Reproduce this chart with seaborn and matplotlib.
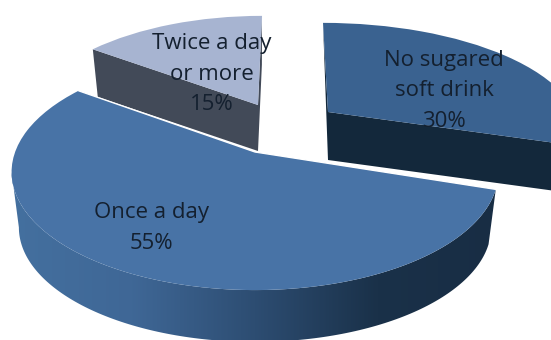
"""
Exploded 3D-look pie chart of sugared soft drink consumption
"""

import matplotlib.pyplot as plt
import numpy as np
import seaborn as sns
from matplotlib.colors import LinearSegmentedColormap
from matplotlib.patches import Polygon
from matplotlib.transforms import Transform

categories = ["No sugared\nsoft drink", "Once a day", "Twice a day\nor more"]
shares = [30, 55, 15]

top_colors = ["#3a6290", "#4873a6", "#a7b4d1"]
cut_colors = ["#13283b", "#4873a6", "#424a58"]

# slice layout in pixels: apex x, apex y, x scale, y scale, lean, depth
layout = [
    (328, 112, 1.04, 0.91, -0.056, 48),
    (255, 152, 1.01, 1.00, 0.0, 56),
    (258, 105, 0.96, 0.91, 0.045, 46),
]
label_pos = [(444, 91), (151, 228), (212, 74)]


class Tilt(Transform):
    """Perspective projection of the unit pie onto the page."""

    input_dims = 2
    output_dims = 2

    def __init__(self, apex_x, apex_y, sx, sy, lean, depth=0, shrink=1.0):
        super().__init__()
        self.params = (apex_x, apex_y + depth, sx * shrink, sy * shrink, lean)

    def transform_non_affine(self, values):
        apex_x, apex_y, sx, sy, lean = self.params
        values = np.asarray(values)
        denom = 1 + 0.17 * values[:, 1]
        dx = sx * 237.5 * values[:, 0] / denom
        dy = sy * 114.6 * values[:, 1] / denom
        return np.column_stack([apex_x + dx + lean * dy, apex_y - dy])


def rim(tilt, angles):
    rad = np.radians(angles)
    return tilt.transform_non_affine(np.column_stack([np.cos(rad), np.sin(rad)]))


sns.set_theme(style="white")
plt.rcParams["font.family"] = ["Open Sans", "DejaVu Sans"]

fig = plt.figure(figsize=(5.51, 3.40), dpi=100)
ax = fig.add_axes([0, 0, 1, 1])

wedges, _ = ax.pie(shares, startangle=90, counterclock=False, colors=top_colors)

for wedge, params in zip(wedges, layout):
    *shape, depth = params
    wedge.set_transform(Tilt(*shape) + ax.transData)
    wedge.set_linewidth(0)
    wedge.set_zorder(3)

# cut faces of the two smaller slices
for i in (0, 2):
    *shape, depth = layout[i]
    top = Tilt(*shape)
    low = Tilt(*shape, depth=depth, shrink=0.97)
    start, end = wedges[i].theta1, wedges[i].theta2
    apex = top.transform_non_affine(np.array([[0.0, 0.0]]))[0]
    apex_low = low.transform_non_affine(np.array([[0.0, 0.0]]))[0]
    for angle in (start, end):
        edge = rim(top, [angle])[0]
        if angle == 90 or angle == 450:
            face = [edge, apex, apex_low]
        else:
            face = [apex, edge, rim(low, [angle])[0], apex_low]
        ax.add_patch(Polygon(face, color=cut_colors[i], lw=0, zorder=2))

# front wall of the big slice, shaded left to right
*shape, depth = layout[1]
top = Tilt(*shape)
low = Tilt(*shape, depth=depth, shrink=0.97)
sweep = np.linspace(wedges[1].theta1, wedges[1].theta2, 200)
top_rim = rim(top, sweep)
low_rim = rim(low, sweep)
# start at the left extreme so the outline runs straight down from there
left = int(np.argmin(top_rim[:, 0]))
wall = Polygon(np.vstack([top_rim[left:], low_rim[left:][::-1]]),
               facecolor="none", lw=0, transform=ax.transData)
ax.add_patch(wall)
shade = LinearSegmentedColormap.from_list(
    "wall", ["#44709f", "#3f6796", "#2d4d72", "#1a3149", "#182d44"])
image = ax.imshow(np.linspace(0, 1, 256)[None, :], cmap=shade, aspect="auto",
                  extent=(10, 500, 345, 150), zorder=4)
image.set_clip_path(wall)
wedges[1].set_zorder(5)

# thin white seam along the cut edges of the big slice
seam = np.vstack([rim(top, [wedges[1].theta2]),
                  top.transform_non_affine(np.array([[0.0, 0.0]])),
                  rim(top, [wedges[1].theta1])])
ax.plot(seam[:, 0], seam[:, 1], color="white", lw=1.0, zorder=6)

for category, share, (x, y) in zip(categories, shares, label_pos):
    ax.text(x, y, f"{category}\n{share}%", ha="center", va="center",
            fontsize=16, color="#14202f", linespacing=1.62, zorder=7)

ax.set_xlim(0, 551)
ax.set_ylim(340, 0)
ax.set_aspect("auto")
ax.axis("off")

fig.savefig("out.png", dpi=100)
plt.close(fig)
